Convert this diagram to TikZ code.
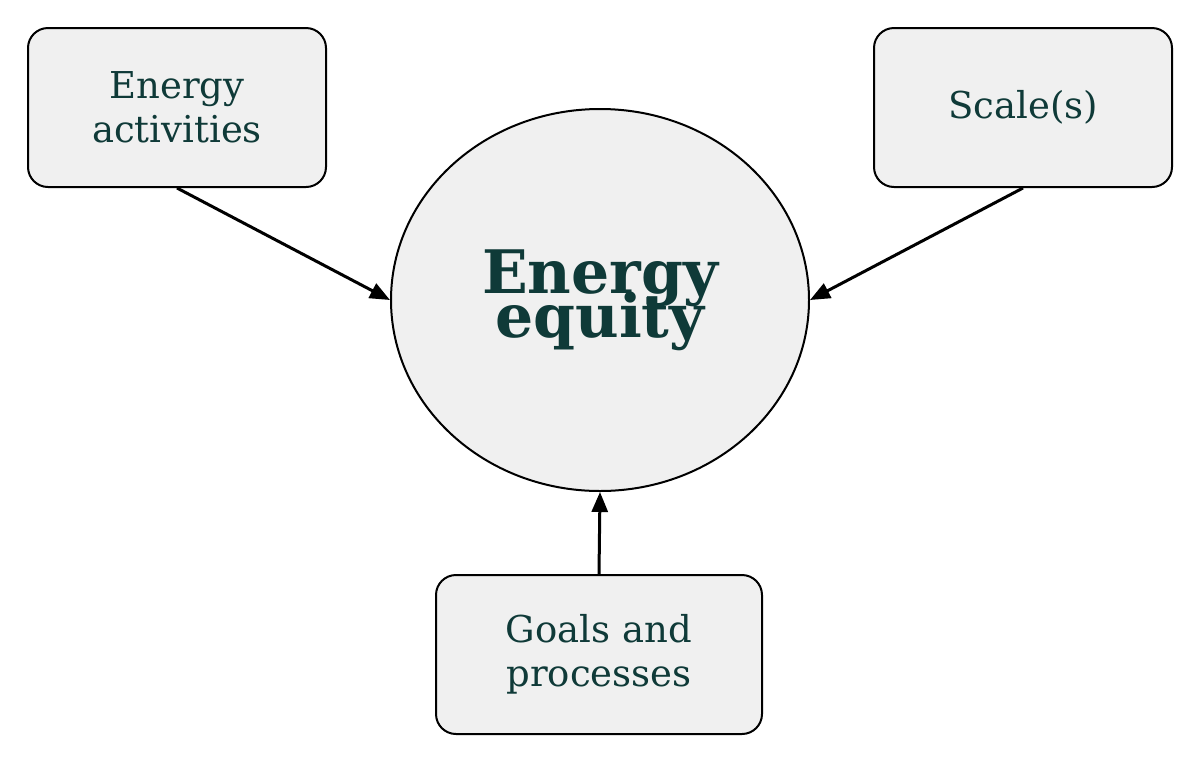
\documentclass[tikz,border=0pt]{standalone}
\usepackage{fontspec}
\setmainfont{DejaVu Serif}
\usetikzlibrary{shapes.geometric,arrows.meta}
\definecolor{txt}{HTML}{0F3A38}
\definecolor{boxfill}{HTML}{F0F0F0}
\newcommand\tightlines{\lineskiplimit=-100pt\relax}
\tikzset{
  box/.style={draw=black, line width=1pt, fill=boxfill, rounded corners=10pt,
    minimum width=149pt, minimum height=79.5pt, align=center, text=txt,
    font=\fontsize{18.5}{22}\selectfont, inner sep=0pt},
  hub/.style={draw=black, line width=1pt, fill=boxfill, ellipse,
    minimum width=209pt, minimum height=191pt, inner sep=0pt, align=center,
    text=txt, font=\fontsize{30}{22}\selectfont\bfseries\tightlines},
  arr/.style={line width=1.5pt, -{Triangle[length=10pt,width=8pt]}}
}
\begin{document}
\begin{tikzpicture}[x=0.5pt,y=-0.5pt]
\useasboundingbox (0,0) rectangle (1200,762);
\node[hub] (c) at (600,300) {Energy\\equity};
\node[box] (b1) at (177,107.5) {Energy\\activities};
\node[box] (b2) at (1023,107.5) {Scale(s)};
\node[box, minimum width=163pt] (b3) at (599,654.5) {Goals and\\processes};
\draw[arr] (b1.south) -- (c.west);
\draw[arr] (b2.south) -- (c.east);
\draw[arr] (b3.north) -- (c.south);
\end{tikzpicture}
\end{document}
